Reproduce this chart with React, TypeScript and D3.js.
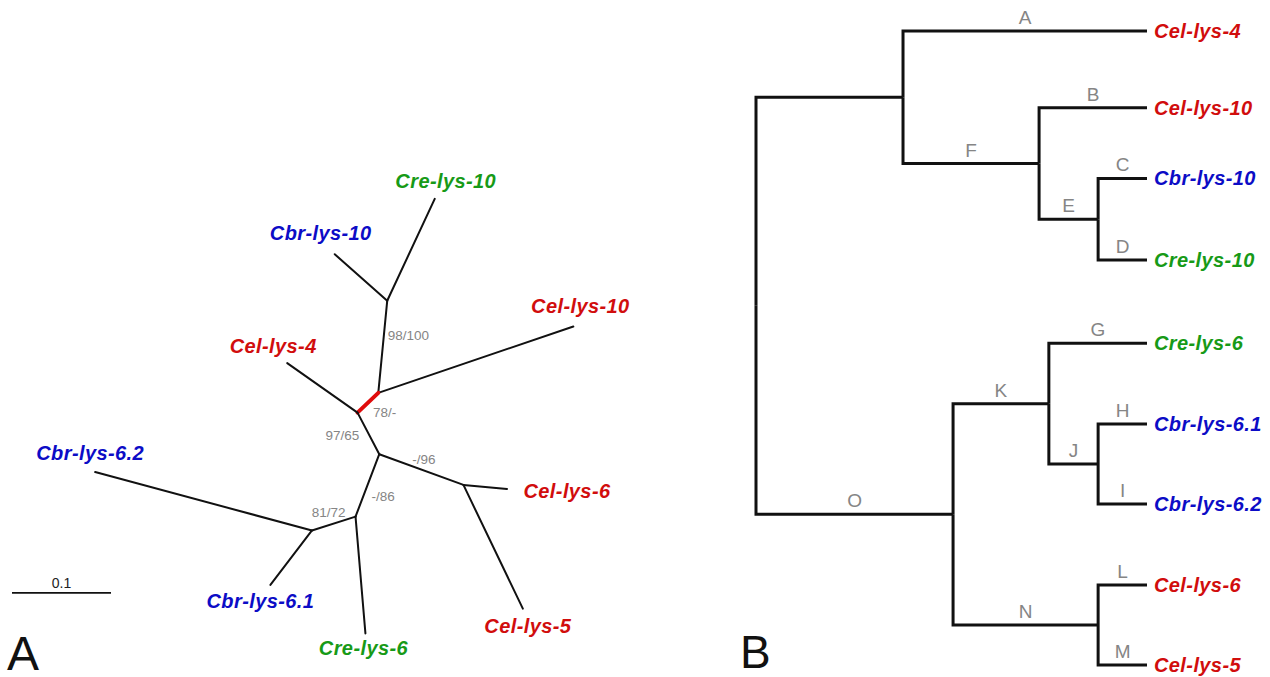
import { useRef, useEffect } from 'react';
import * as d3 from 'd3';

const RED = '#d10d0d';
const BLUE = '#0c0cc6';
const GREEN = '#179a17';
const GREY = '#858585';
const FONT = '"Liberation Sans", Arial, sans-serif';

// Panel A: unrooted tree, node positions in substitutions/site
const A_NODES: [string, number, number][] = [
  ['n1', 0.379, 0.122],
  ['n2', 0.370, 0.215],
  ['n3', 0.349, 0.235],
  ['n4', 0.371, 0.277],
  ['n5', 0.456, 0.308],
  ['n6', 0.347, 0.340],
  ['n7', 0.303, 0.354],
  ['Cre-lys-10', 0.427, 0.019],
  ['Cbr-lys-10', 0.326, 0.075],
  ['Cel-lys-10', 0.567, 0.148],
  ['Cel-lys-4', 0.278, 0.185],
  ['Cel-lys-6', 0.500, 0.312],
  ['Cel-lys-5', 0.516, 0.433],
  ['Cre-lys-6', 0.357, 0.458],
  ['Cbr-lys-6.2', 0.084, 0.295],
  ['Cbr-lys-6.1', 0.261, 0.409],
];

const A_EDGES: [string, string][] = [
  ['n1', 'Cre-lys-10'], ['n1', 'Cbr-lys-10'], ['n1', 'n2'],
  ['n2', 'Cel-lys-10'], ['n2', 'n3'],
  ['n3', 'Cel-lys-4'], ['n3', 'n4'],
  ['n4', 'n5'], ['n5', 'Cel-lys-6'], ['n5', 'Cel-lys-5'],
  ['n4', 'n6'], ['n6', 'Cre-lys-6'], ['n6', 'n7'],
  ['n7', 'Cbr-lys-6.2'], ['n7', 'Cbr-lys-6.1'],
];

const A_HIGHLIGHT: [string, string] = ['n2', 'n3'];

const A_SUPPORT: [string, string, string][] = [
  ['n1', 'n2', '98/100'],
  ['n2', 'n3', '78/-'],
  ['n3', 'n4', '97/65'],
  ['n4', 'n5', '-/96'],
  ['n4', 'n6', '-/86'],
  ['n6', 'n7', '81/72'],
];

const SCALE_BAR = 0.1;

// Panel B: cladogram [id, parent, depth]
const B_NODES: [string, string, number][] = [
  ['root', '', 0],
  ['P', 'root', 0.376],
  ['Cel-lys-4', 'P', 1],
  ['F', 'P', 0.724],
  ['Cel-lys-10', 'F', 1],
  ['E', 'F', 0.875],
  ['Cbr-lys-10', 'E', 1],
  ['Cre-lys-10', 'E', 1],
  ['O', 'root', 0.504],
  ['K', 'O', 0.749],
  ['Cre-lys-6', 'K', 1],
  ['J', 'K', 0.875],
  ['Cbr-lys-6.1', 'J', 1],
  ['Cbr-lys-6.2', 'J', 1],
  ['N', 'O', 0.875],
  ['Cel-lys-6', 'N', 1],
  ['Cel-lys-5', 'N', 1],
];

const B_BRANCH_LABELS: [string, string][] = [
  ['Cel-lys-4', 'A'], ['Cel-lys-10', 'B'], ['Cbr-lys-10', 'C'], ['Cre-lys-10', 'D'],
  ['E', 'E'], ['F', 'F'], ['Cre-lys-6', 'G'], ['Cbr-lys-6.1', 'H'], ['Cbr-lys-6.2', 'I'],
  ['J', 'J'], ['K', 'K'], ['Cel-lys-6', 'L'], ['Cel-lys-5', 'M'], ['N', 'N'], ['O', 'O'],
];

const B_LEAF_POS: [string, number][] = [
  ['Cel-lys-4', 0], ['Cel-lys-10', 0.97], ['Cbr-lys-10', 1.86], ['Cre-lys-10', 2.89],
  ['Cre-lys-6', 3.94], ['Cbr-lys-6.1', 4.96], ['Cbr-lys-6.2', 5.97],
  ['Cel-lys-6', 6.99], ['Cel-lys-5', 8],
];

function speciesColor(name: string) {
  if (name.startsWith('Cel')) return RED;
  if (name.startsWith('Cbr')) return BLUE;
  return GREEN;
}

// label placement (px offsets from the tip, centred)
const A_LABEL_OFFSET: Record<string, [number, number]> = {
  'Cre-lys-10': [11, -11],
  'Cbr-lys-10': [-14, -14],
  'Cel-lys-10': [7, -14],
  'Cel-lys-4': [-14, -10],
  'Cbr-lys-6.2': [-5, -12],
  'Cel-lys-6': [60, 9],
  'Cbr-lys-6.1': [-10, 23],
  'Cre-lys-6': [-2, 22],
  'Cel-lys-5': [5, 24],
};

const A_SUPPORT_OFFSET: Record<string, [number, number, string]> = {
  '98/100': [5, -7, 'start'],
  '78/-': [5, 14, 'start'],
  '97/65': [-9, 7, 'end'],
  '-/96': [-9, -6, 'start'],
  '-/86': [4, 16, 'start'],
  '81/72': [-22, -7, 'start'],
};

export default function App() {
  const ref = useRef<SVGSVGElement>(null);

  useEffect(() => {
    if (!ref.current) return;
    const svg = d3.select(ref.current);
    svg.selectAll('*').remove();

    // ---------- Panel A ----------
    const xA = d3.scaleLinear().domain([0, 0.1]).range([12, 111]);
    const yA = d3.scaleLinear().domain([0, 0.1]).range([180, 279]);
    const pos = new Map(A_NODES.map(([id, x, y]) => [id, [xA(x), yA(y)]]));
    const gA = svg.append('g');
    const isHi = (d: [string, string]) => d[0] === A_HIGHLIGHT[0] && d[1] === A_HIGHLIGHT[1];

    gA.selectAll('line.edge')
      .data(A_EDGES)
      .join('line')
      .attr('x1', d => pos.get(d[0])![0]).attr('y1', d => pos.get(d[0])![1])
      .attr('x2', d => pos.get(d[1])![0]).attr('y2', d => pos.get(d[1])![1])
      .attr('stroke', d => isHi(d) ? '#e00c0c' : '#111')
      .attr('stroke-width', d => isHi(d) ? 4 : 2)
      .attr('stroke-linecap', 'round');

    A_NODES.filter(([id]) => A_LABEL_OFFSET[id]).forEach(([id]) => {
      const [px, py] = pos.get(id)!;
      const [dx, dy] = A_LABEL_OFFSET[id];
      gA.append('text')
        .attr('x', px + dx).attr('y', py + dy)
        .attr('text-anchor', 'middle')
        .attr('font-family', FONT).attr('font-size', 20)
        .attr('font-weight', 'bold').attr('font-style', 'italic')
        .attr('letter-spacing', 0.4)
        .attr('fill', speciesColor(id))
        .text(id);
    });

    A_SUPPORT.forEach(([a, b, label]) => {
      const [x1, y1] = pos.get(a)!;
      const [x2, y2] = pos.get(b)!;
      const [dx, dy, anchor] = A_SUPPORT_OFFSET[label];
      gA.append('text')
        .attr('x', (x1 + x2) / 2 + dx).attr('y', (y1 + y2) / 2 + dy)
        .attr('text-anchor', anchor)
        .attr('font-family', FONT).attr('font-size', 13.5)
        .attr('fill', GREY)
        .text(label);
    });

    // scale bar
    const barY = yA(0.417);
    gA.append('line')
      .attr('x1', xA(0)).attr('x2', xA(SCALE_BAR))
      .attr('y1', barY).attr('y2', barY)
      .attr('stroke', '#111').attr('stroke-width', 1.6);
    gA.append('text')
      .attr('x', (xA(0) + xA(SCALE_BAR)) / 2).attr('y', barY - 5)
      .attr('text-anchor', 'middle')
      .attr('font-family', FONT).attr('font-size', 14).attr('fill', '#222')
      .text(String(SCALE_BAR));

    gA.append('text')
      .attr('x', 7).attr('y', 670)
      .attr('font-family', FONT).attr('font-size', 48).attr('fill', '#111')
      .text('A');

    // ---------- Panel B ----------
    const xB = d3.scaleLinear().domain([0, 1]).range([756, 1147]);
    const yB = d3.scaleLinear().domain([0, 8]).range([31, 665]);
    const leafPos = new Map(B_LEAF_POS);
    const branchLabel = new Map(B_BRANCH_LABELS);

    const root = d3.stratify<[string, string, number]>()
      .id(d => d[0])
      .parentId(d => d[2] === 0 ? null : d[1])(B_NODES);

    const py = new Map<string, number>();
    root.eachAfter(n => {
      const id = n.data[0];
      if (!n.children) py.set(id, yB(leafPos.get(id)!));
      else py.set(id, d3.mean(n.children, c => py.get(c.data[0])!)!);
    });
    const px = (n: d3.HierarchyNode<[string, string, number]>) => xB(n.data[2]);
    const gB = svg.append('g');

    gB.selectAll('path.link')
      .data(root.links())
      .join('path')
      .attr('d', l => `M${px(l.source)},${py.get(l.source.data[0])}V${py.get(l.target.data[0])}H${px(l.target)}`)
      .attr('fill', 'none')
      .attr('stroke', '#111')
      .attr('stroke-width', 3)
      .attr('stroke-linejoin', 'miter');

    root.descendants().forEach(n => {
      const id = n.data[0];
      const lab = branchLabel.get(id);
      if (lab && n.parent) {
        gB.append('text')
          .attr('x', (px(n.parent) + px(n)) / 2)
          .attr('y', py.get(id)! - 7)
          .attr('text-anchor', 'middle')
          .attr('font-family', FONT).attr('font-size', 19)
          .attr('fill', GREY)
          .text(lab);
      }
      if (!n.children) {
        gB.append('text')
          .attr('x', px(n) + 7)
          .attr('y', py.get(id)! + 7)
          .attr('font-family', FONT).attr('font-size', 20)
          .attr('font-weight', 'bold').attr('font-style', 'italic')
          .attr('letter-spacing', 0.4)
          .attr('fill', speciesColor(id))
          .text(id);
      }
    });

    gB.append('text')
      .attr('x', 740).attr('y', 668)
      .attr('font-family', FONT).attr('font-size', 46).attr('fill', '#111')
      .text('B');
  }, []);

  return (
    <svg
      ref={ref}
      width={1270}
      height={677}
      style={{ position: 'absolute', left: 0, top: 0, background: '#fff' }}
    />
  );
}
